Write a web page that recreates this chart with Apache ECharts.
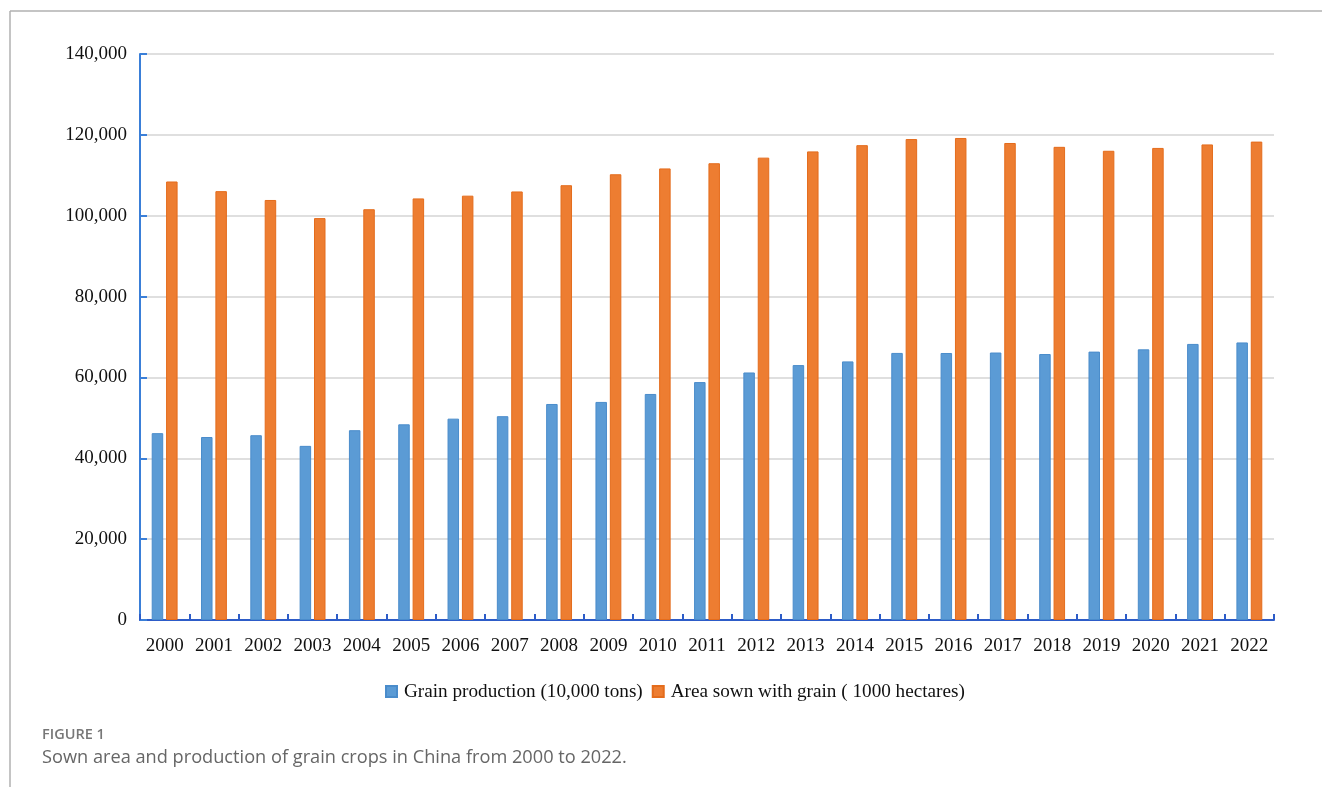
<!DOCTYPE html>
<html><head><meta charset="utf-8">
<script src="https://cdn.jsdelivr.net/npm/echarts@6/dist/echarts.min.js"></script>
<style>html,body{margin:0;padding:0;background:#fff;}#c{width:1322px;height:787px;}</style>
</head><body><div id="c"></div>
<script>
const years = ['2000','2001','2002','2003','2004','2005','2006','2007','2008','2009','2010','2011','2012','2013','2014','2015','2016','2017','2018','2019','2020','2021','2022'];
const grainProduction = [46218,45264,45706,43070,46947,48402,49804,50414,53434,53941,55911,58849,61223,63048,63965,66060,66044,66161,65789,66384,66949,68285,68653];
const sownArea = [108463,106080,103891,99410,101606,104278,104958,105998,107545,110255,111695,112980,114368,115908,117455,118963,119230,117989,117038,116064,116768,117631,118332];
const seriesNames = ['Grain production (10,000 tons)','Area sown with grain ( 1000 hectares)'];
const captionLabel = 'FIGURE 1';
const captionText = 'Sown area and production of grain crops in China from 2000 to 2022.';

const chart = echarts.init(document.getElementById('c'), null, {renderer:'canvas'});
const serif = '"Liberation Serif", "DejaVu Serif", serif';
chart.setOption({
  animation:false,
  backgroundColor:'#fff',
  grid:{left:140, right:48, top:54, bottom:167, containLabel:false},
  legend:{
    left:380, top:677, itemWidth:11, itemHeight:11, itemGap:9,
    icon:'rect',
    textStyle:{fontFamily:serif, fontSize:19.2, color:'#111', padding:[0,0,0,2]},
    data:seriesNames
  },
  xAxis:{
    type:'category', data:years,
    axisLine:{lineStyle:{color:'#2d5cc8', width:2}},
    axisTick:{show:true, inside:true, length:6, interval:0, lineStyle:{color:'#2d5cc8', width:2}},
    axisLabel:{fontFamily:serif, fontSize:19, color:'#111', margin:17, interval:0}
  },
  yAxis:{
    type:'value', min:0, max:140000, interval:20000,
    axisLine:{show:true, lineStyle:{color:'#3a7fd8', width:2}},
    axisTick:{show:true, inside:true, length:7, lineStyle:{color:'#3a7fd8', width:2}},
    axisLabel:{fontFamily:serif, fontSize:19, color:'#111', margin:13,
      formatter:v=>v.toLocaleString('en-US')},
    splitLine:{lineStyle:{color:'#d4d4d4', width:1.6}}
  },
  series:[
    {name:seriesNames[0], type:'bar', data:grainProduction, barWidth:11.5, barGap:'25%',
     itemStyle:{color:'#5b9bd5', borderColor:'#4a8ccb', borderWidth:1}},
    {name:seriesNames[1], type:'bar', data:sownArea, barWidth:11.5,
     itemStyle:{color:'#ed7d31', borderColor:'#e46c1c', borderWidth:1}}
  ],
  graphic:[
    {type:'line', shape:{x1:10, y1:11, x2:1322, y2:11}, style:{stroke:'#b0b0b0', lineWidth:1.5}},
    {type:'line', shape:{x1:10, y1:11, x2:10, y2:787}, style:{stroke:'#b0b0b0', lineWidth:1.5}},
    {type:'text', left:42, top:727, style:{text:captionLabel, fill:'#777', font:'600 14.5px "Open Sans", sans-serif'}},
    {type:'text', left:42, top:749, style:{text:captionText, fill:'#666', font:'18.2px "Open Sans", sans-serif'}}
  ]
});
</script></body></html>
